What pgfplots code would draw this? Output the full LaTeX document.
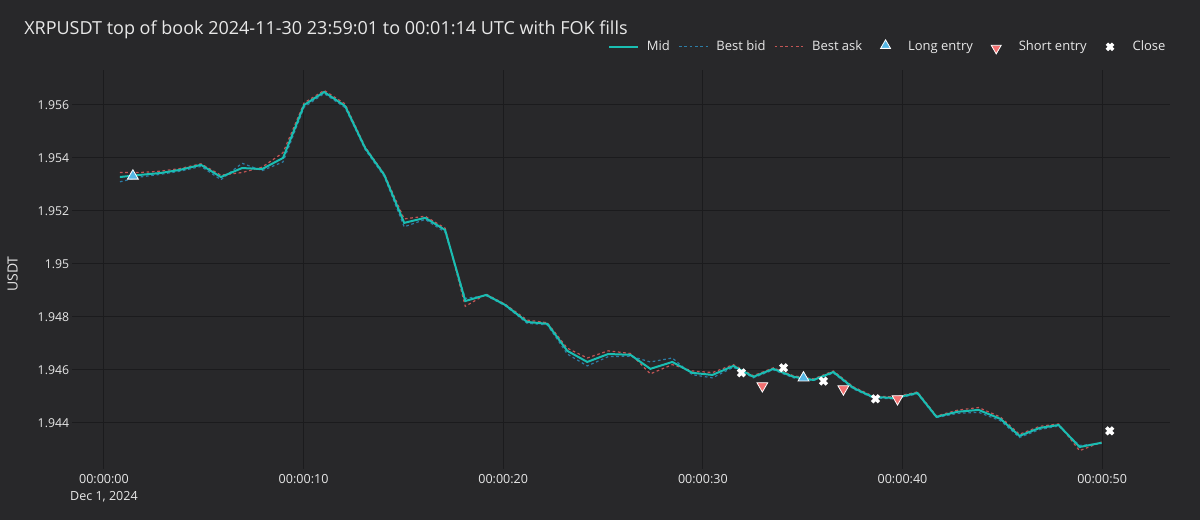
\documentclass[border=0pt]{standalone}
\usepackage{pgfplots}
\pgfplotsset{compat=1.18}
\usepackage{pgfplotstable}
\usepackage{fontspec}
\setmainfont{Open Sans}

\definecolor{bg}{RGB}{40,40,42}
\definecolor{gridc}{RGB}{27,27,29}
\definecolor{txt}{RGB}{232,232,232}
\definecolor{midc}{RGB}{26,190,178}
\definecolor{bidc}{RGB}{45,125,165}
\definecolor{askc}{RGB}{195,85,85}
\definecolor{longc}{RGB}{85,182,228}
\definecolor{shortc}{RGB}{242,112,112}

% t = seconds after 00:00:00 UTC
\pgfplotstableread{
t     mid     bid     ask
0.80  1.95328 1.95310 1.95345
1.80  1.95336 1.95328 1.95345
2.81  1.95343 1.95338 1.95350
3.81  1.95355 1.95350 1.95360
4.86  1.95374 1.95368 1.95378
5.86  1.95328 1.95318 1.95335
6.92  1.95362 1.95380 1.95345
7.92  1.95358 1.95352 1.95365
8.97  1.95400 1.95385 1.95420
10.03 1.95600 1.95592 1.95608
11.03 1.95649 1.95643 1.95655
12.08 1.95596 1.95590 1.95604
13.08 1.95438 1.95432 1.95442
14.04 1.95336 1.95330 1.95340
15.04 1.95155 1.95140 1.95170
16.09 1.95174 1.95168 1.95180
17.09 1.95128 1.95120 1.95135
18.10 1.94860 1.94870 1.94840
19.15 1.94883 1.94880 1.94886
20.10 1.94845 1.94842 1.94848
21.20 1.94781 1.94776 1.94788
22.21 1.94774 1.94770 1.94778
23.21 1.94672 1.94660 1.94682
24.21 1.94630 1.94615 1.94645
25.26 1.94660 1.94650 1.94672
26.37 1.94657 1.94652 1.94662
27.37 1.94604 1.94630 1.94585
28.47 1.94630 1.94645 1.94620
29.47 1.94589 1.94582 1.94596
30.48 1.94581 1.94570 1.94590
31.53 1.94615 1.94610 1.94620
32.53 1.94574 1.94570 1.94578
33.53 1.94604 1.94600 1.94608
34.54 1.94574 1.94570 1.94578
35.54 1.94562 1.94560 1.94566
36.54 1.94592 1.94588 1.94596
37.54 1.94532 1.94528 1.94536
38.50 1.94498 1.94495 1.94502
39.60 1.94494 1.94490 1.94498
40.75 1.94513 1.94510 1.94517
41.70 1.94423 1.94420 1.94426
42.76 1.94442 1.94436 1.94448
43.81 1.94449 1.94440 1.94458
44.91 1.94415 1.94408 1.94422
45.86 1.94351 1.94345 1.94357
46.87 1.94381 1.94375 1.94387
47.82 1.94392 1.94388 1.94396
48.87 1.94309 1.94315 1.94295
49.97 1.94325 1.94322 1.94328
}\book

\pgfplotstableread{
t     px
1.45  1.95332
35.04 1.94570
}\longs

\pgfplotstableread{
t     px
32.98 1.94540
37.04 1.94528
39.75 1.94491
}\shorts

\pgfplotstableread{
t     px
31.93 1.94589
34.04 1.94608
36.04 1.94558
38.65 1.94491
50.38 1.94370
}\closes

\tikzset{
  longmk/.style={mark=triangle*, mark size=4.7pt, mark options={fill=longc, draw=white, line width=0.6pt}},
  shortmk/.style={mark=triangle*, mark size=4.7pt, mark options={fill=shortc, draw=white, line width=0.6pt, rotate=180}},
  closemk/.style={mark=x, mark size=3.6pt, mark options={draw=white, line width=2.6pt}},
}

\begin{document}
\begin{tikzpicture}
\useasboundingbox (0,0) rectangle (900pt,390pt);
\fill[bg] (0,0) rectangle (900pt,390pt);
\begin{axis}[
  at={(54pt,38.25pt)}, anchor=south west,
  scale only axis, width=823.5pt, height=299.25pt,
  xmin=-1.6, xmax=53.4,
  ymin=1.94226, ymax=1.95732,
  axis line style={draw=none},
  major tick length=0pt,
  grid=major,
  major grid style={gridc, line width=0.75pt},
  xtick={0,10,20,30,40,50},
  xticklabels={{00:00:00\\Dec 1, 2024},00:00:10,00:00:20,00:00:30,00:00:40,00:00:50},
  ytick={1.944,1.946,1.948,1.95,1.952,1.954,1.956},
  yticklabels={1.944,1.946,1.948,1.95,1.952,1.954,1.956},
  scaled y ticks=false,
  xticklabel style={align=center, font=\fontsize{9.4}{12.75}\selectfont, text=txt, inner sep=0pt, yshift=-4pt},
  yticklabel style={font=\fontsize{9.2}{11}\selectfont, text=txt, inner sep=0pt, xshift=-2pt},
  legend columns=6,
  legend style={draw=none, fill=none, text=txt, font=\fontsize{9.75}{11}\selectfont,
    at={(0.9985,1.058)}, anchor=east, inner sep=0pt,
    /tikz/every odd column/.append style={column sep=4.2pt},
    /tikz/every even column/.append style={column sep=4.3pt}},
  legend cell align=left,
]
\addlegendimage{legend image code/.code={\draw[midc, line width=1.5pt] (0pt,0pt)--(21.5pt,0pt);}}
\addlegendentry{Mid}
\addlegendimage{legend image code/.code={\draw[bidc, line width=0.9pt, dash pattern=on 2pt off 2pt] (0pt,0pt)--(21.5pt,0pt);}}
\addlegendentry{Best bid}
\addlegendimage{legend image code/.code={\draw[askc, line width=0.9pt, dash pattern=on 2pt off 2pt] (0pt,0pt)--(21.5pt,0pt);}}
\addlegendentry{Best ask}
\addlegendimage{legend image code/.code={\path (0pt,0pt) (21.5pt,0pt); \path plot[longmk, mark size=4.3pt] coordinates {(11pt,1pt)};}}
\addlegendentry{Long entry}
\addlegendimage{legend image code/.code={\path (0pt,0pt) (21.5pt,0pt); \path plot[shortmk, mark size=4.3pt] coordinates {(11pt,-1pt)};}}
\addlegendentry{Short entry}
\addlegendimage{legend image code/.code={\path (0pt,0pt) (21.5pt,0pt); \path plot[closemk, mark size=3.3pt] coordinates {(11pt,0pt)};}}
\addlegendentry{Close}

\addplot[forget plot, bidc, line width=0.9pt, dash pattern=on 2pt off 2pt] table[x=t, y=bid] {\book};
\addplot[forget plot, askc, line width=0.9pt, dash pattern=on 2pt off 2pt] table[x=t, y=ask] {\book};
\addplot[forget plot, midc, line width=1.5pt] table[x=t, y=mid] {\book};
\addplot[forget plot, only marks, longmk] table[x=t, y=px] {\longs};
\addplot[forget plot, only marks, shortmk] table[x=t, y=px] {\shorts};
\addplot[forget plot, only marks, closemk] table[x=t, y=px] {\closes};
\end{axis}
\node[anchor=west, text=txt, font=\fontsize{13.5}{15}\selectfont, inner sep=0pt] at (18pt,367.5pt)
  {XRPUSDT top of book 2024-11-30 23:59:01 to 00:01:14 UTC with FOK fills};
\node[rotate=90, text=txt, font=\fontsize{10.5}{12}\selectfont, inner sep=0pt] at (9.5pt,184.5pt) {USDT};
\end{tikzpicture}
\end{document}
